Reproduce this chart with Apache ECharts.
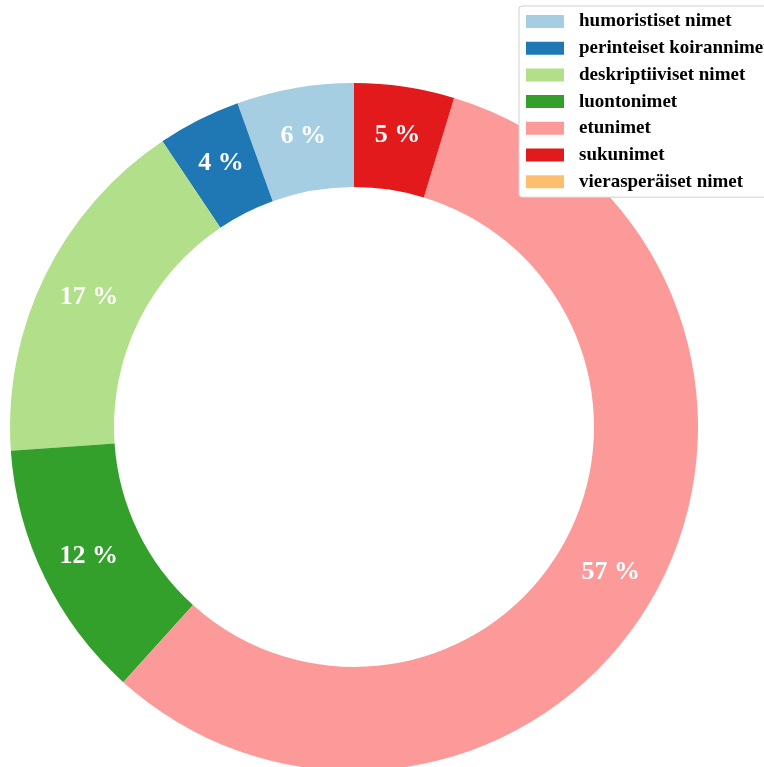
<!DOCTYPE html>
<html>
<head>
<meta charset="utf-8">
<script src="https://cdn.jsdelivr.net/npm/echarts@6/dist/echarts.min.js"></script>
<style>
html,body{margin:0;padding:0;background:#fff;}
#chart{width:764px;height:767px;}
</style>
</head>
<body>
<div id="chart"></div>
<script>
const categories = ["humoristiset nimet","perinteiset koirannimet","deskriptiiviset nimet","luontonimet","etunimet","sukunimet","vierasperäiset nimet"];
const values = [5.5, 3.9, 16.7, 12.2, 57.0, 4.7, 0];
const colors = ["#a6cee3","#1f78b4","#b2df8a","#33a02c","#fb9a99","#e31a1c","#fdbf6f"];

const chart = echarts.init(document.getElementById('chart'), null, {renderer:'canvas'});
chart.setOption({
  animation: false,
  color: colors,
  legend: {
    orient: 'vertical',
    left: 519,
    top: 6,
    padding: [6, 40, 6, 7],
    itemWidth: 38,
    itemHeight: 13,
    itemGap: 7.7,
    icon: 'rect',
    backgroundColor: '#fff',
    borderColor: '#d0d0d0',
    borderWidth: 1,
    borderRadius: 3,
    data: categories,
    textStyle: {
      fontFamily: 'Liberation Serif',
      fontWeight: 'bold',
      fontSize: 19,
      lineHeight: 19,
      color: '#000',
      padding: [0,0,0,10]
    }
  },
  series: [{
    type: 'pie',
    center: [354, 427],
    radius: [240, 344],
    startAngle: 90,
    clockwise: false,
    avoidLabelOverlap: false,
    labelLine: {show: false},
    emphasis: {disabled: true},
    label: {
      show: true,
      position: 'inside',
      color: '#fff',
      fontFamily: 'Liberation Serif',
      fontWeight: 'bold',
      fontSize: 26,
      formatter: p => p.value > 0 ? Math.round(p.percent) + ' %' : ''
    },
    data: categories.map((c, i) => ({name: c, value: values[i]}))
  }]
});
</script>
</body>
</html>
